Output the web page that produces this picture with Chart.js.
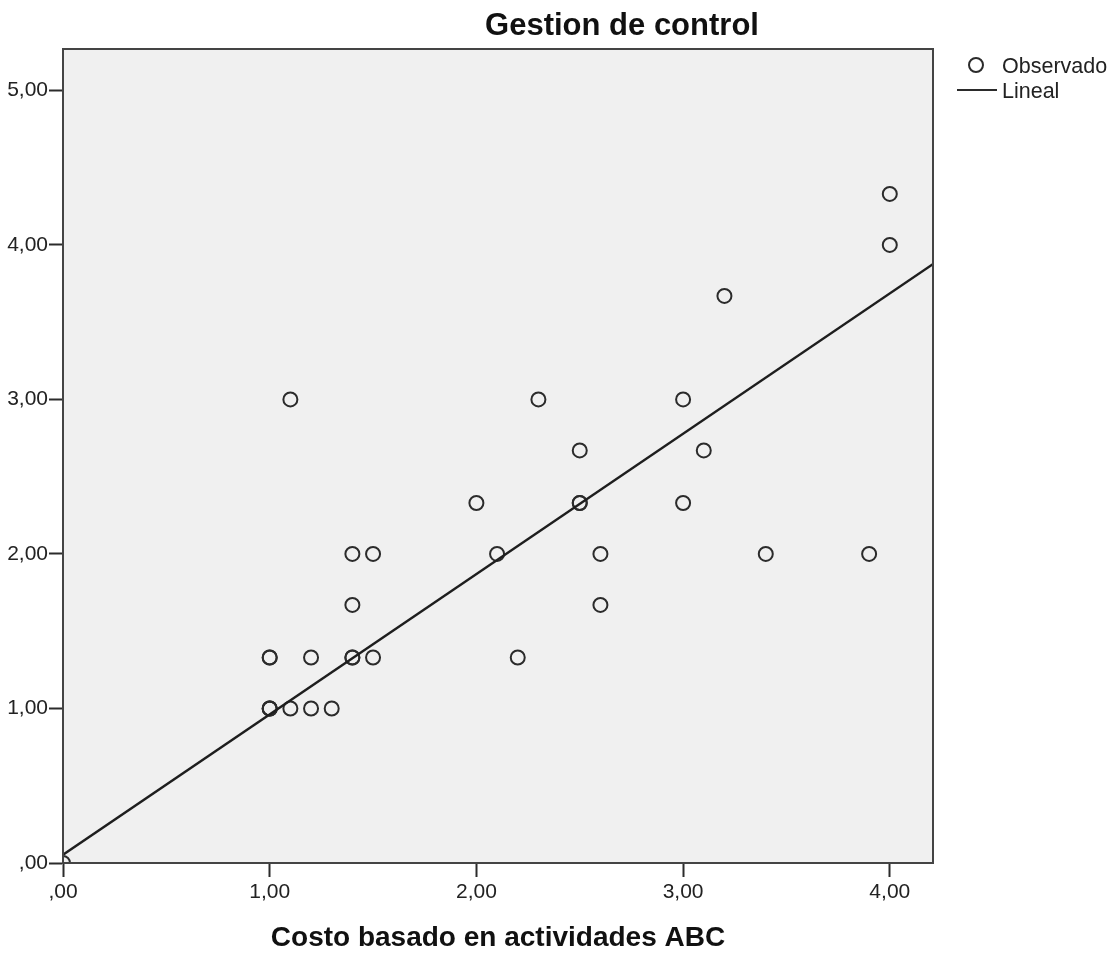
<!DOCTYPE html>
<html><head><meta charset="utf-8">
<script src="https://cdn.jsdelivr.net/npm/chart.js@4/dist/chart.umd.min.js"></script>
<style>html,body{margin:0;padding:0;background:#fff;overflow:hidden}#wrap{width:1115px;height:955px}</style>
</head><body><div id="wrap"><canvas id="c" width="1115" height="955"></canvas></div>
<script>
// ---- data ----
const obsX = [0, 1, 1, 1, 1, 1, 1.1, 1.1, 1.2, 1.2, 1.3, 1.4, 1.4, 1.4, 1.4, 1.5, 1.5, 2.0, 2.1, 2.2, 2.3, 2.5, 2.5, 2.5, 2.6, 2.6, 3.0, 3.0, 3.1, 3.2, 3.4, 3.9, 4.0, 4.0];
const obsY = [0, 1, 1, 1, 1.33, 1.33, 1.0, 3.0, 1.33, 1.0, 1.0, 2.0, 1.67, 1.33, 1.33, 2.0, 1.33, 2.33, 2.0, 1.33, 3.0, 2.67, 2.33, 2.33, 2.0, 1.67, 3.0, 2.33, 2.67, 3.67, 2.0, 2.0, 4.33, 4.0];
const lineX = [0, 4.21];
const lineY = [0.054, 3.877];
const xTickValues = [0, 1, 2, 3, 4];
const xTickLabels = [',00', '1,00', '2,00', '3,00', '4,00'];
const yTickValues = [0, 1, 2, 3, 4, 5];
const yTickLabels = [',00', '1,00', '2,00', '3,00', '4,00', '5,00'];
const legendLabels = ['Observado', 'Lineal'];
const chartTitle = 'Gestion de control';
const xAxisTitle = 'Costo basado en actividades ABC';

const FONT = '"Liberation Sans", Arial, sans-serif';
const INK = '#2b2b2b';

const obsData = obsX.map((x, i) => ({x, y: obsY[i]}));
const lineData = lineX.map((x, i) => ({x, y: lineY[i]}));

const decor = {
  id: 'decor',
  beforeDraw(chart) {
    const {ctx, chartArea: a} = chart;
    ctx.save();
    ctx.fillStyle = '#f0f0f0';
    ctx.fillRect(a.left, a.top, a.right - a.left, a.bottom - a.top);
    ctx.restore();
  },
  afterDraw(chart) {
    const {ctx, chartArea: a} = chart;
    ctx.save();
    // frame
    ctx.strokeStyle = '#444';
    ctx.lineWidth = 2;
    ctx.strokeRect(a.left, a.top, a.right - a.left, a.bottom - a.top);
    // title
    ctx.fillStyle = '#111';
    ctx.font = 'bold 31px ' + FONT;
    ctx.textAlign = 'center';
    ctx.textBaseline = 'alphabetic';
    ctx.fillText(chartTitle, 622, 35);
    // legend
    ctx.strokeStyle = INK;
    ctx.lineWidth = 2;
    ctx.beginPath();
    ctx.arc(976, 65, 7, 0, Math.PI * 2);
    ctx.stroke();
    ctx.beginPath();
    ctx.moveTo(957, 90);
    ctx.lineTo(997, 90);
    ctx.stroke();
    ctx.fillStyle = '#222';
    ctx.font = '21.5px ' + FONT;
    ctx.textAlign = 'left';
    ctx.textBaseline = 'middle';
    ctx.fillText(legendLabels[0], 1002, 67);
    ctx.fillText(legendLabels[1], 1002, 92);
    ctx.restore();
  }
};

new Chart(document.getElementById('c'), {
  data: {
    datasets: [
      {type: 'line', label: legendLabels[1], data: lineData, borderColor: '#1e1e1e', borderWidth: 2.5, pointRadius: 0, fill: false, tension: 0, clip: 0},
      {type: 'scatter', label: legendLabels[0], data: obsData, pointStyle: 'circle', pointRadius: 7, borderWidth: 2, borderColor: INK, backgroundColor: 'rgba(0,0,0,0)', clip: 0}
    ]
  },
  options: {
    responsive: false,
    animation: false,
    devicePixelRatio: 1,
    layout: {padding: {top: 49, right: 182, left: 0, bottom: 0}},
    plugins: {legend: {display: false}, tooltip: {enabled: false}, title: {display: false}},
    scales: {
      x: {
        type: 'linear', min: 0, max: 4.209,
        afterFit(s) { s.height = 92; },
        afterBuildTicks(s) { s.ticks = xTickValues.map(v => ({value: v})); },
        ticks: {includeBounds: false, padding: 3, color: '#222', font: {family: FONT, size: 21},
          callback: (v) => xTickLabels[xTickValues.indexOf(v)] ?? ''},
        grid: {drawOnChartArea: false, drawTicks: true, tickLength: 14, tickWidth: 2, tickColor: INK, color: INK},
        border: {display: true, color: INK, width: 2},
        title: {display: true, text: xAxisTitle, color: '#111', font: {family: FONT, size: 28, weight: 'bold'}, padding: {top: 0, bottom: 0}}
      },
      y: {
        type: 'linear', min: 0, max: 5.268,
        afterFit(s) { s.width = 63; },
        afterBuildTicks(s) { s.ticks = yTickValues.map(v => ({value: v})); },
        ticks: {includeBounds: false, padding: 1, color: '#222', font: {family: FONT, size: 21},
          callback: (v) => yTickLabels[yTickValues.indexOf(v)] ?? ''},
        grid: {drawOnChartArea: false, drawTicks: true, tickLength: 14, tickWidth: 2, tickColor: INK, color: INK},
        border: {display: true, color: INK, width: 2}
      }
    }
  },
  plugins: [decor]
});
</script>
</body></html>
